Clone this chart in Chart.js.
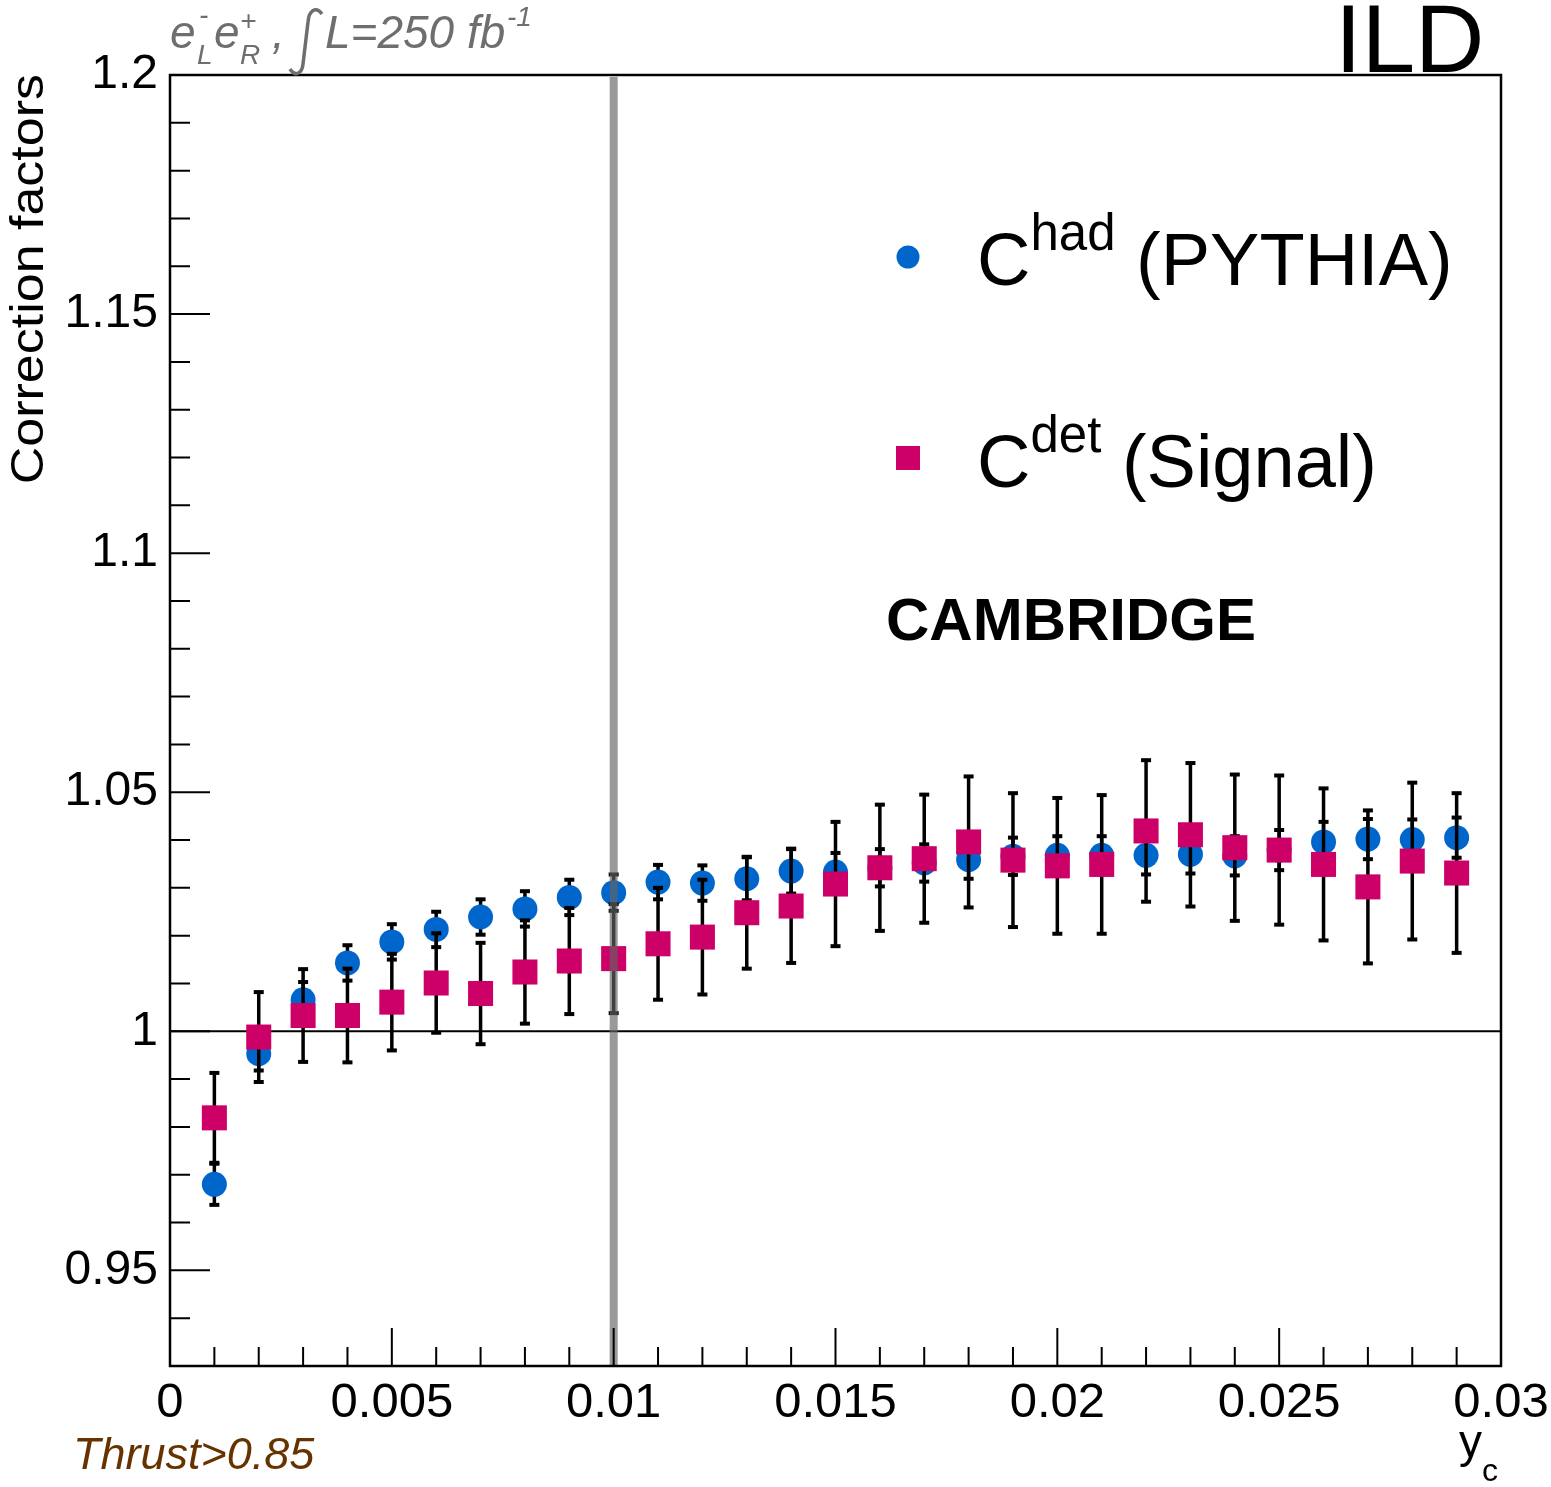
<!DOCTYPE html>
<html>
<head>
<meta charset="utf-8">
<script src="https://cdn.jsdelivr.net/npm/chart.js@4.4.0/dist/chart.umd.min.js"></script>
<style>
  html, body { margin: 0; padding: 0; background: #fff; }
  #wrap { width: 1551px; height: 1487px; position: relative; }
</style>
</head>
<body>
<div id="wrap"><canvas id="cf"></canvas></div>
<script>
// y_c bin centres
var yc = [0.001, 0.002, 0.003, 0.004, 0.005, 0.006, 0.007, 0.008, 0.009, 0.010,
          0.011, 0.012, 0.013, 0.014, 0.015, 0.016, 0.017, 0.018, 0.019, 0.020,
          0.021, 0.022, 0.023, 0.024, 0.025, 0.026, 0.027, 0.028, 0.029];

// C^had (PYTHIA)
var hadValues = [0.9680, 0.9953, 1.0066, 1.0143, 1.0187, 1.0213, 1.0239, 1.0256, 1.0280, 1.0290,
                 1.0312, 1.0310, 1.0319, 1.0335, 1.0333, 1.0342, 1.0352, 1.0359, 1.0366, 1.0368,
                 1.0368, 1.0368, 1.0370, 1.0367, 1.0379, 1.0396, 1.0402, 1.0401, 1.0405];
var hadErrors = [0.0043, 0.0035, 0.0037, 0.0037, 0.0037, 0.0037, 0.0037, 0.0037, 0.0037, 0.0038,
                 0.0036, 0.0037, 0.0045, 0.0047, 0.0040, 0.0039, 0.0039, 0.0040, 0.0039, 0.0040,
                 0.0040, 0.0040, 0.0040, 0.0041, 0.0042, 0.0042, 0.0042, 0.0042, 0.0042];

// C^det (Signal)
var detValues = [0.9819, 0.9988, 1.0033, 1.0033, 1.0061, 1.0101, 1.0079, 1.0124, 1.0147, 1.0152,
                 1.0183, 1.0197, 1.0248, 1.0262, 1.0308, 1.0342, 1.0361, 1.0396, 1.0358, 1.0346,
                 1.0349, 1.0419, 1.0411, 1.0384, 1.0379, 1.0349, 1.0302, 1.0356, 1.0331];
var detErrors = [0.0094, 0.0094, 0.0097, 0.0098, 0.0101, 0.0104, 0.0106, 0.0108, 0.0111, 0.0114,
                 0.0117, 0.0120, 0.0117, 0.0119, 0.0130, 0.0132, 0.0134, 0.0137, 0.0140, 0.0142,
                 0.0145, 0.0148, 0.0150, 0.0153, 0.0156, 0.0159, 0.0160, 0.0164, 0.0167];

var xTicks = [0, 0.005, 0.01, 0.015, 0.02, 0.025, 0.03];
var xTickLabels = ['0', '0.005', '0.01', '0.015', '0.02', '0.025', '0.03'];
var yTicks = [0.95, 1, 1.05, 1.1, 1.15, 1.2];
var yTickLabels = ['0.95', '1', '1.05', '1.1', '1.15', '1.2'];
var cutValue = 0.01;

var FONT = '"Liberation Sans", Arial, Helvetica, sans-serif';
var blue = '#0066cc';
var pink = '#cc0066';

function points(vals) {
    return yc.map(function (x, i) { return { x: x, y: vals[i] }; });
}

// error bars are drawn just before their own dataset, so markers sit on top
var errorBars = {
    id: 'errorBars',
    beforeDatasetDraw: function (chart, args) {
        var ds = chart.data.datasets[args.index];
        var xs = chart.scales.x, ys = chart.scales.y, ctx = chart.ctx;
        ctx.save();
        ctx.fillStyle = '#000';
        ds.data.forEach(function (p, i) {
            var e = ds.errors[i];
            var px = xs.getPixelForValue(p.x);
            var top = ys.getPixelForValue(p.y + e);
            var bot = ys.getPixelForValue(p.y - e);
            ctx.fillRect(px - 1.75, top, 3.5, bot - top);
            ctx.fillRect(px - 5, top - 2, 10, 4);
            ctx.fillRect(px - 5, bot - 2, 10, 4);
        });
        ctx.restore();
    }
};

var frame = {
    id: 'frame',
    beforeDatasetsDraw: function (chart) {
        var ctx = chart.ctx, a = chart.chartArea, ys = chart.scales.y;
        var y1 = ys.getPixelForValue(1);
        ctx.save();
        ctx.strokeStyle = '#000';
        ctx.lineWidth = 2;
        ctx.beginPath();
        ctx.moveTo(a.left, y1);
        ctx.lineTo(a.right, y1);
        ctx.stroke();
        ctx.restore();
    },
    afterDatasetsDraw: function (chart) {
        var ctx = chart.ctx, a = chart.chartArea;
        var xs = chart.scales.x, ys = chart.scales.y;
        ctx.save();

        // cut line
        var cx = xs.getPixelForValue(cutValue);
        ctx.fillStyle = 'rgba(100,100,100,0.65)';
        ctx.fillRect(cx - 4, a.top + 2, 8, a.bottom - a.top - 2);

        // box
        ctx.strokeStyle = '#000';
        ctx.lineWidth = 2.5;
        ctx.strokeRect(a.left, a.top, a.right - a.left, a.bottom - a.top);

        // ticks drawn inside the frame
        ctx.lineWidth = 2;
        ctx.beginPath();
        var v, p, k;
        for (k = 93; k <= 120; k++) {
            v = k / 100;
            p = ys.getPixelForValue(v);
            var major = (k % 5 === 0);
            ctx.moveTo(a.left, p);
            ctx.lineTo(a.left + (major ? 40 : 20), p);
        }
        for (k = 0; k <= 30; k++) {
            v = k / 1000;
            p = xs.getPixelForValue(v);
            ctx.moveTo(p, a.bottom);
            ctx.lineTo(p, a.bottom - (k % 5 === 0 ? 38 : 19));
        }
        ctx.stroke();
        ctx.restore();
    },
    afterDraw: function (chart) {
        var ctx = chart.ctx;
        ctx.save();
        ctx.textBaseline = 'alphabetic';
        ctx.textAlign = 'left';

        // y axis title
        ctx.save();
        ctx.translate(43, 74);
        ctx.rotate(-Math.PI / 2);
        ctx.scale(1.13, 1);
        ctx.textAlign = 'right';
        ctx.fillStyle = '#000';
        ctx.font = '46px ' + FONT;
        ctx.fillText('Correction factors', 0, 0);
        ctx.restore();

        // x axis title
        ctx.fillStyle = '#000';
        ctx.font = '46px ' + FONT;
        ctx.fillText('y', 1459, 1457);
        ctx.font = '32px ' + FONT;
        ctx.fillText('c', 1482, 1481);

        // ILD
        ctx.font = '96px ' + FONT;
        ctx.fillText('ILD', 1335, 72);

        // luminosity label
        ctx.fillStyle = '#6e6e6e';
        var big = 'italic 46px ' + FONT, sm = 'italic 28px ' + FONT;
        ctx.font = big; ctx.fillText('e', 170, 48);
        ctx.font = sm; ctx.fillText('-', 199, 24); ctx.fillText('L', 197, 64);
        ctx.font = big; ctx.fillText('e', 214, 48);
        ctx.font = sm; ctx.fillText('+', 240, 30); ctx.fillText('R', 240, 64);
        ctx.font = big; ctx.fillText(',', 272, 48);
        ctx.strokeStyle = '#6e6e6e';
        ctx.lineWidth = 3.5;
        ctx.beginPath();
        ctx.moveTo(322, 14);
        ctx.bezierCurveTo(316, 6, 309, 10, 308, 22);
        ctx.lineTo(303, 64);
        ctx.bezierCurveTo(302, 74, 295, 77, 290, 69);
        ctx.stroke();
        ctx.font = big; ctx.fillText('L=250 fb', 325, 48);
        ctx.font = sm; ctx.fillText('-1', 507, 26);

        // selection label
        ctx.fillStyle = '#663300';
        ctx.font = 'italic 45px ' + FONT;
        ctx.fillText('Thrust>0.85', 73, 1469);

        // legend
        var ds = chart.data.datasets;
        ctx.fillStyle = ds[1].backgroundColor;
        ctx.beginPath();
        ctx.arc(908, 257, 11.5, 0, Math.PI * 2);
        ctx.fill();
        ctx.fillStyle = ds[0].backgroundColor;
        ctx.fillRect(896, 446, 24, 24);

        ctx.fillStyle = '#000';
        function entry(sup, rest, x, base) {
            ctx.font = '74px ' + FONT;
            ctx.fillText('C', x, base);
            x += ctx.measureText('C').width;
            ctx.font = '51px ' + FONT;
            ctx.fillText(sup, x, base - 35);
            x += ctx.measureText(sup).width;
            ctx.font = '74px ' + FONT;
            ctx.fillText(rest, x, base);
        }
        entry('had', ' (PYTHIA)', 977, 285);
        entry('det', ' (Signal)', 977, 487);

        ctx.font = 'bold 60px ' + FONT;
        ctx.fillText('CAMBRIDGE', 886, 640);
        ctx.restore();
    }
};

var ctx = document.getElementById('cf');
var chart = new Chart(ctx, {
    type: 'scatter',
    data: {
        datasets: [
            {
                label: 'C det (Signal)',
                data: points(detValues),
                errors: detErrors,
                backgroundColor: pink,
                pointStyle: 'rect',
                pointRadius: 17.7,
                pointBorderWidth: 0,
                order: 1
            },
            {
                label: 'C had (PYTHIA)',
                data: points(hadValues),
                errors: hadErrors,
                backgroundColor: blue,
                pointStyle: 'circle',
                pointRadius: 12.5,
                pointBorderWidth: 0,
                order: 2
            }
        ]
    },
    options: {
        responsive: true,
        maintainAspectRatio: false,
        animation: false,
        layout: { padding: { left: 0, right: 50, top: 75, bottom: 0 } },
        plugins: {
            legend: { display: false },
            tooltip: { enabled: false }
        },
        scales: {
            x: {
                type: 'linear',
                min: 0,
                max: 0.03,
                border: { display: false },
                grid: { display: false, drawTicks: false },
                afterBuildTicks: function (s) {
                    s.ticks = xTicks.map(function (v) { return { value: v }; });
                },
                afterFit: function (s) {
                    s.height = 121;
                    s.paddingLeft = 0;
                    s.paddingRight = 0;
                },
                ticks: {
                    autoSkip: false,
                    maxRotation: 0,
                    padding: 8,
                    color: '#000',
                    font: { family: FONT, size: 49 },
                    callback: function (v) { return xTickLabels[xTicks.indexOf(v)]; }
                }
            },
            y: {
                type: 'linear',
                min: 0.93,
                max: 1.2,
                border: { display: false },
                grid: { display: false, drawTicks: false },
                afterBuildTicks: function (s) {
                    s.ticks = yTicks.map(function (v) { return { value: v }; });
                },
                afterFit: function (s) {
                    s.width = 170;
                    s.paddingTop = 0;
                    s.paddingBottom = 0;
                },
                ticks: {
                    autoSkip: false,
                    padding: 12,
                    color: '#000',
                    font: { family: FONT, size: 48 },
                    callback: function (v) { return yTickLabels[yTicks.indexOf(v)]; }
                }
            }
        }
    },
    plugins: [errorBars, frame]
});
</script>
</body>
</html>
